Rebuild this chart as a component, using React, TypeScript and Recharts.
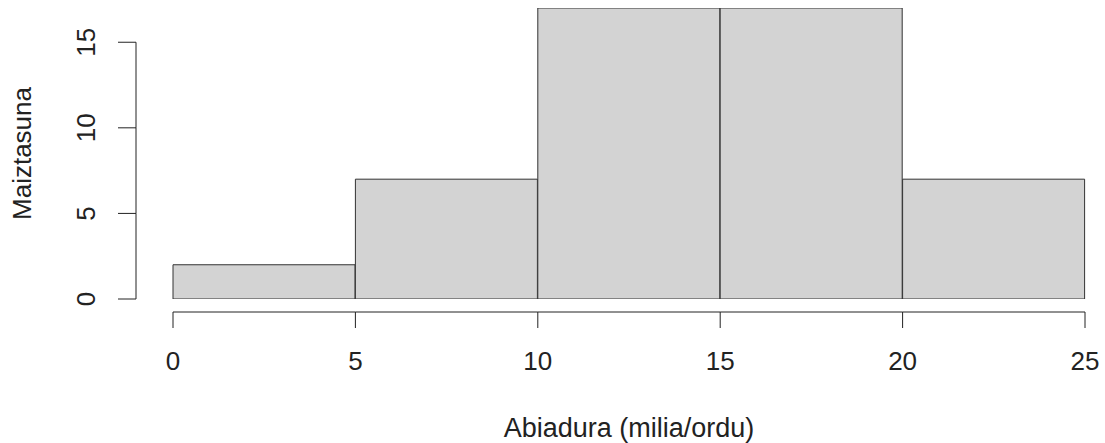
import { BarChart, Bar, XAxis, YAxis, Label } from 'recharts'

const BINS        = ['0-5', '5-10', '10-15', '15-20', '20-25']
const FREQUENCIES = [2, 7, 17, 17, 7]
const X_TICKS     = [0, 5, 10, 15, 20, 25]
const Y_TICKS     = [0, 5, 10, 15]

const data = BINS.map((bin, i) => ({ bin, count: FREQUENCIES[i] }))

// layout (R-style offset axes)
const W = 1105
const H = 443
const M = { top: 8, right: 20, bottom: 0, left: 0 }
const Y_AXIS_W = 173
const X_AXIS_H = 144
const Y_MAX = 17
const PLOT_W = W - M.left - M.right - Y_AXIS_W
const PLOT_H = H - M.top - M.bottom - X_AXIS_H
const BAND = PLOT_W / BINS.length
const PX_Y = PLOT_H / Y_MAX

const FONT = '"Liberation Sans", Arial, sans-serif'
const INK = '#222'

function YTick({ x, y, payload, index }: any) {
  const ax = x - 37
  const step = index < Y_TICKS.length - 1 ? (Y_TICKS[index + 1] - Y_TICKS[index]) * PX_Y : 0
  return (
    <g>
      <line x1={ax - 18} x2={ax} y1={y} y2={y} stroke={INK} />
      {step > 0 && <line x1={ax} x2={ax} y1={y} y2={y - step} stroke={INK} />}
      <text x={x - 87} y={y} transform={`rotate(-90, ${x - 87}, ${y})`}
        textAnchor="middle" dominantBaseline="central"
        fontSize={26} fontFamily={FONT} fill={INK}>
        {payload.value}
      </text>
    </g>
  )
}

// ticks sit on bin edges, so each band draws its left edge (and the last one its right edge too)
function XTick({ x, y, index }: any) {
  const ay = y + 13
  const left = x - BAND / 2
  const right = x + BAND / 2
  const edge = (ex: number, v: number) => (
    <g key={v}>
      <line x1={ex} x2={ex} y1={ay} y2={ay + 16} stroke={INK} />
      <text x={ex} y={y + 71} textAnchor="middle"
        fontSize={26} fontFamily={FONT} fill={INK}>
        {v}
      </text>
    </g>
  )
  return (
    <g>
      <line x1={left} x2={right} y1={ay} y2={ay} stroke={INK} />
      {edge(left, X_TICKS[index])}
      {index === BINS.length - 1 && edge(right, X_TICKS[index + 1])}
    </g>
  )
}

function YTitle({ viewBox }: any) {
  const cx = viewBox.x + 22
  const cy = viewBox.y + viewBox.height / 2
  return (
    <text x={cx} y={cy} transform={`rotate(-90, ${cx}, ${cy})`}
      textAnchor="middle" dominantBaseline="central"
      fontSize={26} fontFamily={FONT} fill={INK}>
      Maiztasuna
    </text>
  )
}

function XTitle({ viewBox }: any) {
  return (
    <text x={viewBox.x + viewBox.width / 2} y={viewBox.y + 138} textAnchor="middle"
      fontSize={27} fontFamily={FONT} fill={INK}>
      Abiadura (milia/ordu)
    </text>
  )
}

export default function App() {
  return (
    <div style={{ position: 'absolute', left: 0, top: 0, width: W, height: H, background: '#fff' }}>
      <BarChart width={W} height={H} data={data} margin={M} barCategoryGap={0}>
        <XAxis dataKey="bin" height={X_AXIS_H} axisLine={false} tickLine={false}
          tickSize={0} tickMargin={0} tick={<XTick />} interval={0}>
          <Label content={<XTitle />} />
        </XAxis>
        <YAxis domain={[0, Y_MAX]} ticks={Y_TICKS} allowDataOverflow width={Y_AXIS_W}
          axisLine={false} tickLine={false} tickSize={0} tickMargin={0}
          tick={<YTick />} interval={0}>
          <Label content={<YTitle />} />
        </YAxis>
        <Bar dataKey="count" fill="#d3d3d3" stroke="#333"
          strokeWidth={1} isAnimationActive={false} />
      </BarChart>
    </div>
  )
}
